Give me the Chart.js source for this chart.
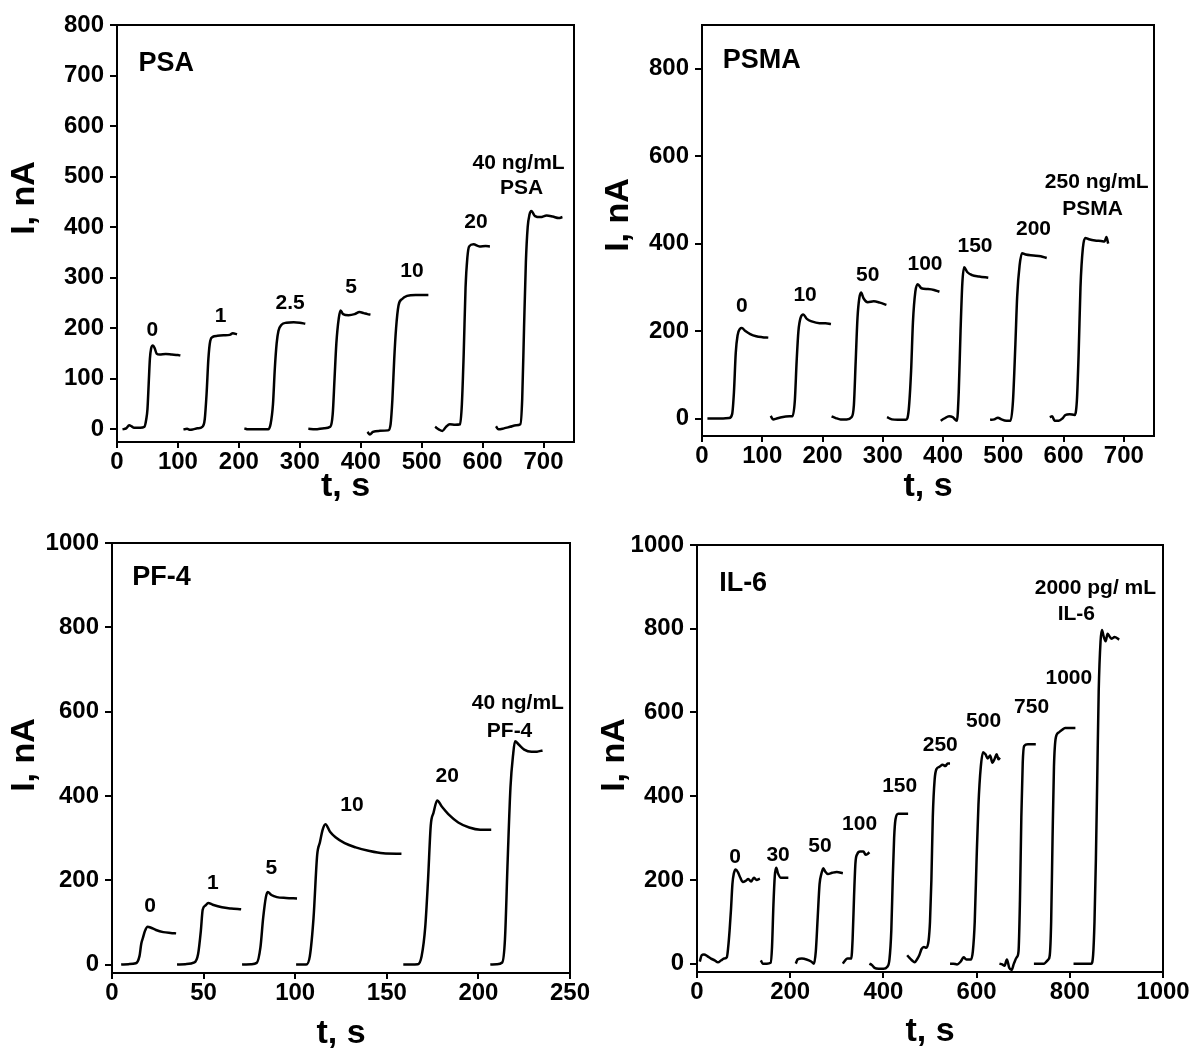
<!DOCTYPE html>
<html>
<head>
<meta charset="utf-8">
<script src="https://cdn.jsdelivr.net/npm/chart.js@4.4.0/dist/chart.umd.min.js"></script>
<style>
  html, body { margin: 0; padding: 0; background: #fff; }
  #wrap { position: relative; width: 1200px; height: 1051px; }
  canvas { position: absolute; }
</style>
</head>
<body>
<div id="wrap">
  <canvas id="psa"  width="600" height="520" style="left:0;top:0"></canvas>
  <canvas id="psma" width="600" height="520" style="left:600px;top:0"></canvas>
  <canvas id="pf4"  width="600" height="531" style="left:0;top:520px"></canvas>
  <canvas id="il6"  width="600" height="531" style="left:600px;top:520px"></canvas>
</div>
<script>
// --- PSA: current (nA) vs time (s), one trace per injection
const psaTraces = [
  [[9,0],[15,2],[20,8],[24,6],[28,3],[38,3],[45,5],[48,20],[50,40],[52,90],[54,140],[56,160],[59,166],[62,160],[65,150],[70,148],[80,149],[90,148],[100,147],[104,146]],
  [[109,0],[115,1],[120,-1],[125,0],[132,2],[140,5],[144,20],[147,70],[150,140],[153,175],[157,183],[165,185],[175,186],[185,187],[190,190],[197,188]],
  [[209,2],[215,0],[230,0],[248,0],[252,10],[256,50],[259,120],[262,170],[265,195],[270,207],[278,211],[290,212],[300,211],[309,209]],
  [[314,1],[325,0],[340,2],[350,5],[354,30],[357,100],[360,170],[364,220],[367,235],[371,228],[380,226],[390,228],[398,232],[405,230],[411,228],[416,227]],
  [[411,-5],[415,-10],[420,-5],[430,-3],[445,-2],[449,10],[452,60],[455,140],[458,200],[462,245],[468,258],[476,264],[490,266],[500,266],[511,266]],
  [[522,5],[528,0],[534,-3],[540,5],[546,10],[555,9],[563,10],[566,50],[569,150],[572,280],[575,340],[578,362],[585,366],[595,362],[605,363],[612,362]],
  [[622,6],[626,0],[635,2],[645,5],[655,8],[662,10],[665,60],[668,200],[671,330],[674,400],[677,425],[680,432],[686,422],[695,420],[705,423],[715,421],[725,418],[731,420]]
];
const psaLabels = ['0', '1', '2.5', '5', '10', '20', '40 ng/mL', 'PSA'];
const psaLabelT = [58, 170, 284, 384, 484, 589, 659, 664];
const psaLabelI = [197, 224, 250, 282, 313, 410, 527, 477];

// --- PSMA
const psmaTraces = [
  [[9,0],[20,0],[35,0],[45,1],[50,10],[53,60],[56,150],[59,190],[63,205],[66,207],[72,200],[80,193],[90,188],[100,186],[110,185]],
  [[114,6],[118,-2],[124,0],[132,3],[145,5],[150,5],[154,40],[157,130],[160,200],[164,232],[168,238],[174,228],[182,222],[195,218],[205,218],[214,216]],
  [[215,5],[222,1],[230,-2],[240,-2],[248,3],[252,30],[255,130],[258,230],[261,275],[264,288],[268,275],[275,266],[285,268],[295,265],[306,260]],
  [[307,3],[315,-2],[325,-3],[338,-3],[343,20],[347,110],[350,220],[354,290],[358,307],[364,298],[375,296],[385,294],[394,290]],
  [[396,-5],[402,0],[410,5],[416,3],[423,-5],[426,60],[429,200],[432,310],[435,346],[440,335],[448,328],[460,325],[475,322]],
  [[478,-3],[485,-2],[491,2],[497,-2],[505,-5],[512,-5],[516,40],[520,170],[523,280],[527,350],[531,378],[537,375],[550,373],[562,371],[572,367]],
  [[577,3],[581,5],[585,-5],[592,-5],[598,0],[603,8],[610,10],[618,8],[622,40],[625,150],[628,300],[632,390],[636,413],[642,410],[652,407],[662,406],[668,405],[671,415],[674,400]]
];
const psmaLabels = ['0', '10', '50', '100', '150', '200', '250 ng/mL', 'PSMA'];
const psmaLabelT = [66, 171, 275, 370, 453, 550, 655, 648];
const psmaLabelI = [258, 281, 328, 353, 395, 434, 540, 479];

// --- PF-4
const pf4Traces = [
  [[5,0],[9,1],[13,3],[15,20],[16,50],[17,65],[18,80],[19.5,90],[21,88],[24,82],[28,77],[32,75],[35,74]],
  [[35.5,0],[40,1],[45,5],[47,25],[48.5,80],[49.5,130],[51,140],[52.5,146],[55,142],[60,136],[65,133],[70.5,131]],
  [[71,0],[76,1],[79,4],[81,40],[82.5,110],[84,160],[85,172],[87,165],[90,160],[95,158],[101,157]],
  [[100.5,0],[106,0],[108,20],[110,110],[112,260],[113.5,290],[115,320],[116.5,333],[119,315],[122,302],[127,288],[133,278],[140,270],[148,264],[158,263]],
  [[159,0],[163,0],[167,1],[169,20],[171,90],[172.5,200],[174,330],[175.5,360],[177.5,389],[180,375],[184,355],[189,337],[195,325],[201,320],[207,320]],
  [[206.5,0],[210,1],[213,5],[214.5,60],[216,250],[217.5,420],[219,500],[220,530],[222,522],[225,510],[229,505],[232,505],[235,508]]
];
const pf4Labels = ['0', '1', '5', '10', '20', '40 ng/mL', 'PF-4'];
const pf4LabelT = [20.8, 55, 87, 131, 183, 221.5, 217];
const pf4LabelI = [139, 192, 228, 377, 446, 619, 554];

// --- IL-6
const il6Traces = [
  [[6,5],[10,20],[15,22],[22,18],[30,12],[38,8],[45,3],[52,8],[58,12],[64,15],[67,40],[70,80],[73,130],[76,190],[79,215],[83,225],[88,218],[93,205],[98,195],[105,198],[110,202],[116,196],[122,205],[128,200],[135,203]],
  [[137,8],[141,0],[150,0],[158,2],[161,40],[164,140],[167,210],[170,229],[174,215],[180,205],[188,205],[196,205]],
  [[212,0],[216,10],[225,12],[235,10],[245,5],[251,0],[255,30],[259,110],[263,190],[267,215],[271,228],[275,220],[281,214],[290,217],[300,219],[313,216]],
  [[313,0],[318,8],[323,12],[331,12],[334,60],[337,160],[340,240],[344,262],[350,268],[357,268],[362,260],[366,262],[370,266]],
  [[370,0],[375,-3],[381,-10],[390,-12],[400,-12],[408,-8],[413,10],[417,80],[420,200],[423,300],[426,345],[432,358],[442,358],[453,358]],
  [[451,20],[455,15],[461,8],[467,3],[472,10],[477,20],[482,35],[487,40],[492,38],[497,55],[500,100],[503,200],[506,350],[510,440],[514,465],[520,470],[527,475],[533,472],[538,478],[543,478]],
  [[543,0],[550,0],[558,-2],[566,5],[572,15],[578,10],[588,10],[592,30],[596,100],[600,250],[604,380],[609,470],[614,505],[619,500],[624,490],[629,497],[634,480],[639,490],[643,500],[647,488],[650,492]],
  [[649,0],[655,-2],[660,-5],[665,10],[670,-10],[675,-15],[680,0],[686,15],[690,30],[693,150],[696,350],[699,480],[702,520],[710,524],[718,524],[727,524]],
  [[723,0],[735,0],[745,0],[750,5],[754,10],[757,20],[760,100],[763,300],[766,470],[770,540],[776,552],[783,558],[790,563],[800,563],[812,563]],
  [[808,0],[820,0],[835,0],[846,0],[850,20],[853,100],[856,250],[859,450],[862,650],[866,770],[869,797],[873,780],[877,770],[881,788],[885,782],[890,776],[896,780],[906,774]]
];
const il6Labels = ['0', '30', '50', '100', '150', '250', '500', '750', '1000', '2000 pg/ mL', 'IL-6'];
const il6LabelT = [82, 174, 264, 349, 435, 522, 615, 718, 798, 855, 814];
const il6LabelI = [254, 258, 280, 333, 424, 522, 579, 613, 683, 896, 835];

// panel names and their anchor (t, I)
const panelNames = ['PSA', 'PSMA', 'PF-4', 'IL-6'];
const panelNameT = [81, 99, 27, 99];
const panelNameI = [724, 819, 917, 908];

// axis ranges [min, max] and tick values
const psaX = [0, 750],  psaY = [-25, 800];
const psmaX = [0, 750], psmaY = [-40, 900];
const pf4X = [0, 250],  pf4Y = [-20, 1000];
const il6X = [0, 1000], il6Y = [-20, 1000];
const psaXTicks = [0, 100, 200, 300, 400, 500, 600, 700];
const psaYTicks = [0, 100, 200, 300, 400, 500, 600, 700, 800];
const psmaXTicks = [0, 100, 200, 300, 400, 500, 600, 700];
const psmaYTicks = [0, 200, 400, 600, 800];
const pf4XTicks = [0, 50, 100, 150, 200, 250];
const pf4YTicks = [0, 200, 400, 600, 800, 1000];
const il6XTicks = [0, 200, 400, 600, 800, 1000];
const il6YTicks = [0, 200, 400, 600, 800, 1000];

const FONT = '"Liberation Sans", Arial, Helvetica, sans-serif';

// full box around the plot area
const frame = {
  id: 'frame',
  afterDraw(chart){
    const {ctx, chartArea: a} = chart;
    ctx.save();
    ctx.strokeStyle = '#000';
    ctx.lineWidth = 2;
    ctx.strokeRect(a.left, a.top, a.right - a.left, a.bottom - a.top);
    ctx.restore();
  }
};

// concentration labels, panel name and the rotated y title
const notes = {
  id: 'notes',
  afterDatasetsDraw(chart, args, o){
    const {ctx} = chart;
    const x = chart.scales.x, y = chart.scales.y;
    ctx.save();
    ctx.fillStyle = '#000';
    ctx.textAlign = 'center';
    ctx.textBaseline = 'middle';
    ctx.font = 'bold 21px ' + FONT;
    o.text.forEach((s, k) => {
      ctx.fillText(s, x.getPixelForValue(o.t[k]), y.getPixelForValue(o.i[k]));
    });
    ctx.font = 'bold 27px ' + FONT;
    ctx.fillText(o.name, x.getPixelForValue(o.nameT), y.getPixelForValue(o.nameI));
    ctx.translate(o.titleX, o.titleY);
    ctx.rotate(-Math.PI / 2);
    ctx.font = 'bold 34px ' + FONT;
    ctx.fillText('I, nA', 0, 0);
    ctx.restore();
  }
};

function makePanel(id, traces, labels, labelT, labelI, k, xr, yr, xTicks, yTicks, lay){
  const datasets = traces.map(seg => ({
    data: seg.map(p => ({x: p[0], y: p[1]})),
    borderColor: '#000',
    borderWidth: 2.5,
    pointRadius: 0,
    cubicInterpolationMode: 'monotone',
    fill: false
  }));
  const tickFont = {family: FONT, size: 24, weight: 'bold'};
  return new Chart(document.getElementById(id), {
    type: 'line',
    data: {datasets},
    plugins: [frame, notes],
    options: {
      responsive: false,
      animation: false,
      layout: {padding: {left: 0, top: lay.top, right: lay.right, bottom: 0}},
      plugins: {
        legend: {display: false},
        tooltip: {enabled: false},
        notes: {
          text: labels, t: labelT, i: labelI,
          name: panelNames[k], nameT: panelNameT[k], nameI: panelNameI[k],
          titleX: lay.tx, titleY: lay.ty
        }
      },
      scales: {
        x: {
          type: 'linear',
          min: xr[0], max: xr[1],
          afterBuildTicks: s => { s.ticks = xTicks.map(v => ({value: v})); },
          ticks: {color: '#000', font: tickFont, padding: 0, maxRotation: 0, autoSkip: false,
                  callback: v => String(v)},
          grid: {drawOnChartArea: false, drawTicks: true, tickLength: 6, color: '#000', lineWidth: 2},
          border: {display: true, color: '#000', width: 2},
          title: {display: true, text: 't, s', color: '#000',
                  font: {family: FONT, size: 34, weight: 'bold', lineHeight: 1},
                  padding: {top: 0, bottom: lay.pb}},
          afterFit: s => { s.height = lay.xh; s.paddingLeft = 0; s.paddingRight = 0; }
        },
        y: {
          type: 'linear',
          min: yr[0], max: yr[1],
          afterBuildTicks: s => { s.ticks = yTicks.map(v => ({value: v})); },
          ticks: {color: '#000', font: tickFont, padding: 6, callback: v => String(v)},
          grid: {drawOnChartArea: false, drawTicks: true, tickLength: 7, color: '#000', lineWidth: 2},
          border: {display: true, color: '#000', width: 2},
          afterFit: s => { s.width = lay.yw; s.paddingTop = 0; s.paddingBottom = 0; }
        }
      }
    }
  });
}

makePanel('psa', psaTraces, psaLabels, psaLabelT, psaLabelI, 0, psaX, psaY, psaXTicks, psaYTicks,
  {yw: 117, xh: 78, top: 25, right: 26, pb: 16, tx: 25, ty: 198});
makePanel('psma', psmaTraces, psmaLabels, psmaLabelT, psmaLabelI, 1, psmaX, psmaY, psmaXTicks, psmaYTicks,
  {yw: 102, xh: 84, top: 25, right: 46, pb: 16, tx: 19, ty: 215});
makePanel('pf4', pf4Traces, pf4Labels, pf4LabelT, pf4LabelI, 2, pf4X, pf4Y, pf4XTicks, pf4YTicks,
  {yw: 112, xh: 78, top: 23, right: 30, pb: 0, tx: 25, ty: 235});
makePanel('il6', il6Traces, il6Labels, il6LabelT, il6LabelI, 3, il6X, il6Y, il6XTicks, il6YTicks,
  {yw: 97, xh: 79, top: 25, right: 37, pb: 2, tx: 15, ty: 235});
</script>
</body>
</html>
